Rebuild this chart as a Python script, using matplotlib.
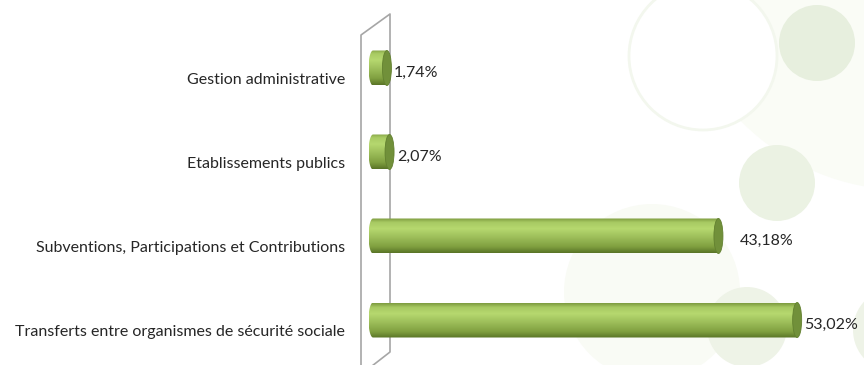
import numpy as np
import matplotlib
matplotlib.use("Agg")
import matplotlib.pyplot as plt
from matplotlib.patches import Circle, Ellipse, PathPatch
from matplotlib.path import Path
from matplotlib.lines import Line2D

# ---- données ----
categories = [
    "Transferts entre organismes de sécurité sociale",
    "Subventions, Participations et Contributions",
    "Etablissements publics",
    "Gestion administrative",
]
values = [53.02, 43.18, 2.07, 1.74]
value_labels = ["53,02%", "43,18%", "2,07%", "1,74%"]

# ---- mise en page (pixels, dpi 100) ----
W, H = 864, 365
X0_PX, PX_PER_PCT = 373, 8.0        # origine des barres, échelle
Y0_PX, PX_PER_CAT = 320, 84         # centre de la 1re barre, pas vertical
BAR_H_PX, CAP_W_PX = 35, 9
LABEL_PAD_PX = [2, 17, 3, 2]

TEXT = "#262626"
FS = 11.5
plt.rcParams["font.family"] = ["Lato", "DejaVu Sans"]

fig = plt.figure(figsize=(W / 100, H / 100), dpi=100)
fig.patch.set_facecolor("white")

# fond décoratif : cercles vert pâle
bg = fig.add_axes([0, 0, 1, 1], zorder=0)
bg.set_xlim(0, W)
bg.set_ylim(H, 0)
bg.axis("off")
for (cx, cy, r, fc, ec) in [
    (905, -40, 230, "#fafcf6", "none"),
    (652, 292, 88, "#f9fbf5", "none"),
    (703, 56, 74, "white", "#f3f7ee"),
    (817, 43, 38, "#e7efde", "none"),
    (777, 183, 38, "#ebf2e3", "none"),
    (747, 327, 40, "#eef3e7", "none"),
    (895, 330, 42, "#eef3e7", "none"),
]:
    bg.add_patch(Circle((cx, cy), r, facecolor=fc, edgecolor=ec, lw=2))

# paroi 3D (axe des catégories)
wall_x = [361, 361, 390, 390, 372]
wall_y = [365, 35, 14, 352, 366]
bg.add_line(Line2D(wall_x, wall_y, color="#a6a6a6", lw=1.2))

# axe principal
ax_left = 355
ax = fig.add_axes([ax_left / W, 0, 1 - ax_left / W, 1], zorder=1)
ax.patch.set_alpha(0)
ax.set_xlim((ax_left - X0_PX) / PX_PER_PCT, (W - X0_PX) / PX_PER_PCT)
y_lo = -(H - Y0_PX) / PX_PER_CAT
ax.set_ylim(y_lo, y_lo + H / PX_PER_CAT)
for s in ax.spines.values():
    s.set_visible(False)
ax.set_xticks([])

ypos = np.arange(len(categories))
ax.set_yticks(ypos - 0.13)
ax.set_yticklabels(categories, fontsize=FS, color=TEXT)
ax.tick_params(axis="y", length=0, pad=7)

bar_h = BAR_H_PX / PX_PER_CAT
cap_w = CAP_W_PX / PX_PER_PCT

# dégradé vertical du cylindre (haut -> bas)
stops = [0.0, 0.12, 0.3, 0.55, 0.82, 1.0]
cols = ["#7e9c40", "#a8ca63", "#b6d86f", "#9dbe5a", "#80a040", "#5a7527"]
rgb = np.array([matplotlib.colors.to_rgb(c) for c in cols])
t = np.linspace(0, 1, 64)
grad = np.stack([np.interp(t, stops, rgb[:, k]) for k in range(3)], axis=1)
grad = grad[:, None, :]

for y, v, lab, pad in zip(ypos, values, value_labels, LABEL_PAD_PX):
    top, bot = y + bar_h / 2, y - bar_h / 2
    # contour : demi-ellipse à gauche + corps jusqu'à v
    th = np.linspace(np.pi / 2, 3 * np.pi / 2, 30)
    left = np.column_stack([cap_w / 2 * np.cos(th), y + bar_h / 2 * np.sin(th)])
    verts = np.vstack([left, [[v, bot], [v, top], left[0]]])
    clip = PathPatch(Path(verts), facecolor="none", edgecolor="none")
    ax.add_patch(clip)
    im = ax.imshow(grad, extent=(-cap_w / 2, v, bot, top), origin="upper",
                   aspect="auto", zorder=2, interpolation="bilinear")
    im.set_clip_path(clip)
    ax.add_patch(Ellipse((v, y), cap_w, bar_h, facecolor="#71903a",
                         edgecolor="#62802f", lw=0.6, zorder=3))
    ax.text(v + cap_w / 2 + pad / PX_PER_PCT, y - 5 / PX_PER_CAT, lab,
            fontsize=FS, color=TEXT, va="center", ha="left", zorder=4)

fig.savefig("out.png", dpi=100)
